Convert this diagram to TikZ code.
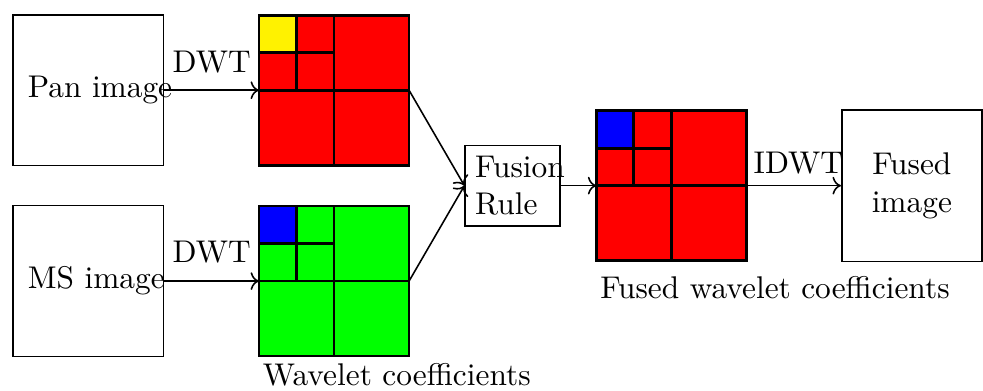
\documentclass[tikz,border=0pt]{standalone}
\usepackage{tikz}
\usetikzlibrary{arrows.meta,positioning,calc}
\tikzset{
  >=To,
  every picture/.append style={line width=0.5pt},
}
\tikzset{
  imgbox/.style={draw, minimum width=16.9mm, minimum height=16.9mm, inner xsep=4.8pt,
                 text width=13.5mm, align=left},
  coeff/.style={draw, line width=0.9pt, minimum size=16.8mm, inner sep=0pt, outer sep=0pt},
  gridline/.style={line width=0.9pt},
  flow/.style={->}
}

\begin{document}
\begin{tikzpicture}[node distance=4.3mm and 10.6mm]

% source images
\node[imgbox] (pan) at (0,0) {\mbox{Pan image}};
\node[imgbox, below=of pan] (ms) {\mbox{MS image}};

% fixed page size
\useasboundingbox ([shift={(-1.34mm,1.57mm)}]pan.north west) rectangle ++(110.1mm,-43.7mm);

% wavelet coefficient blocks
\node[coeff, fill=red, right=of pan] (panc) {};
\node[coeff, fill=green, right=of ms] (msc) {};

% fusion rule between the two blocks
\node[draw, minimum height=8.5mm, inner xsep=3.2pt, text width=8.35mm, align=left, anchor=west]
  (fusion) at ([xshift=6.2mm]$(panc.east)!0.5!(msc.east)$) {Fusion\\Rule};

\node[coeff, fill=red, right=4mm of fusion] (fused) {};
\node[draw, minimum width=15.7mm, minimum height=17mm, align=center, right=10.6mm of fused]
  (out) {Fused\\image};

% subband layout: two levels, approximation band coloured
\foreach \g/\c in {panc/yellow, msc/blue, fused/blue}{
  \fill[\c] (\g.north west) rectangle ($(\g.north west)!0.25!(\g.south east)$);
  \draw[gridline] (\g.north west) rectangle ($(\g.north west)!0.25!(\g.south east)$);
  \draw[gridline] (\g.north) -- (\g.south) (\g.west) -- (\g.east)
    ($(\g.north west)!0.5!(\g.north)$) -- ($(\g.west)!0.5!(\g.center)$)
    ($(\g.north west)!0.5!(\g.west)$) -- ($(\g.north)!0.5!(\g.center)$);
}

% arrows
\draw[flow] (pan.east) -- node[above=2pt] {DWT} (panc.west);
\draw[flow] (ms.east) -- node[above=2pt] {DWT} (msc.west);
\draw[flow] (panc.east) -- (fusion.west);
\draw[flow] (msc.east) -- (fusion.west);
\draw[flow] (fusion.east) -- (fused.west);
\draw[flow] (fused.east) -- node[above, pos=0.55] {IDWT} (out.west);

% captions
\node[anchor=north west, inner xsep=1pt, yshift=0.4mm] (wclabel) at (msc.south west)
  {Wavelet coefficients};
\node[anchor=north west, inner xsep=1pt, yshift=-0.5mm] (fclabel) at (fused.south west)
  {Fused wavelet coefficients};

\end{tikzpicture}
\end{document}
